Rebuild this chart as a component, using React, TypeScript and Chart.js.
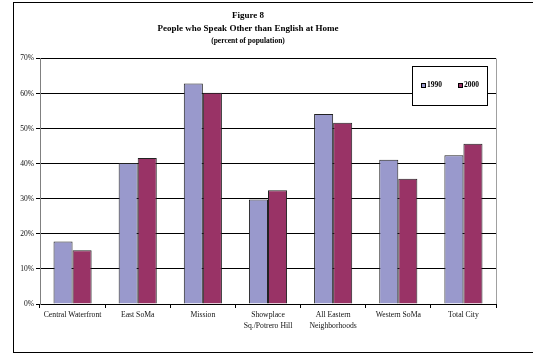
import React, { useEffect, useRef } from "react";
import { Chart, registerables } from "chart.js";

Chart.register(...registerables);

const categories: (string | string[])[] = [
  "Central Waterfront",
  "East SoMa",
  "Mission",
  ["Showplace", "Sq./Potrero Hill"],
  ["All Eastern", "Neighborhoods"],
  "Western SoMa",
  "Total City",
];
const values1990 = [17.8, 40.2, 62.9, 29.8, 54.2, 41.1, 42.4];
const values2000 = [15.3, 41.6, 60.2, 32.4, 51.7, 35.7, 45.7];
const yTicks = [0, 10, 20, 30, 40, 50, 60, 70];
const seriesLabels = ["1990", "2000"];
const seriesColors = ["#9999CC", "#993366"];

const SERIF = "'Liberation Serif', 'Times New Roman', serif";

const legendPlugin = {
  id: "boxLegend",
  afterDraw(chart: any) {
    const { ctx, chartArea } = chart;
    const w = 75;
    const h = 39;
    const left = chartArea.right - 9 - w;
    const top = chartArea.top + 7;
    ctx.save();
    ctx.fillStyle = "#fff";
    ctx.fillRect(left, top, w, h);
    ctx.strokeStyle = "#000";
    ctx.lineWidth = 1;
    ctx.strokeRect(Math.round(left) + 0.5, Math.round(top) + 0.5, w, h);
    ctx.font = `bold 7.5px ${SERIF}`;
    ctx.textBaseline = "middle";
    const cy = top + h / 2;
    const offsets = [9, 46];
    chart.data.datasets.forEach((ds: any, i: number) => {
      const x = Math.round(left + offsets[i]);
      ctx.fillStyle = ds.backgroundColor;
      ctx.fillRect(x, Math.round(cy - 2.5), 5, 5);
      ctx.strokeStyle = "#000";
      ctx.strokeRect(x + 0.5, Math.round(cy - 2.5) + 0.5, 4, 4);
      ctx.fillStyle = "#000";
      ctx.fillText(ds.label, x + 6, cy);
    });
    ctx.restore();
  },
};

const borderPlugin = {
  id: "plotBorder",
  beforeDatasetsDraw(chart: any) {
    const { ctx, chartArea } = chart;
    ctx.save();
    ctx.strokeStyle = "#A0A0A0";
    ctx.lineWidth = 1;
    ctx.beginPath();
    const x = Math.round(chartArea.right) + 0.5;
    ctx.moveTo(x, chartArea.top);
    ctx.lineTo(x, chartArea.bottom);
    ctx.stroke();
    ctx.restore();
  },
};

export default function App() {
  const ref = useRef<HTMLCanvasElement>(null);

  useEffect(() => {
    if (!ref.current) return;
    const chart = new Chart(ref.current, {
      type: "bar",
      data: {
        labels: categories as any,
        datasets: [
          {
            label: seriesLabels[0],
            data: values1990,
            backgroundColor: seriesColors[0],
            borderColor: "#222",
            borderWidth: 1,
          },
          {
            label: seriesLabels[1],
            data: values2000,
            backgroundColor: seriesColors[1],
            borderColor: "#222",
            borderWidth: 1,
          },
        ],
      },
      options: {
        animation: false,
        responsive: false,
        maintainAspectRatio: false,
        layout: { padding: { left: 0, right: 37, top: 0, bottom: 0 } },
        datasets: {
          bar: { categoryPercentage: 0.585, barPercentage: 1 },
        },
        plugins: {
          legend: { display: false },
          tooltip: { enabled: false },
          title: {
            display: true,
            text: ["Figure 8", "People who Speak Other than English at Home"],
            color: "#000",
            font: { family: SERIF, size: 9, weight: "bold", lineHeight: 13 / 9 },
            padding: { top: 9.5, bottom: 0 },
          },
          subtitle: {
            display: true,
            text: "(percent of population)",
            color: "#000",
            font: { family: SERIF, size: 7.5, weight: "bold", lineHeight: 1.2 },
            padding: { top: 1, bottom: 13 },
          },
        },
        scales: {
          x: {
            grid: {
              drawOnChartArea: false,
              drawTicks: true,
              tickLength: 4,
              color: "#000",
              offset: true,
            },
            border: { color: "#000", width: 1 },
            ticks: {
              autoSkip: false,
              maxRotation: 0,
              minRotation: 0,
              padding: 2,
              color: "#111",
              font: { family: SERIF, size: 7.7, lineHeight: 1.4 },
            },
            afterFit: (scale: any) => {
              scale.height = 56;
            },
          },
          y: {
            min: 0,
            max: 70,
            afterBuildTicks: (scale: any) => {
              scale.ticks = yTicks.map((v) => ({ value: v }));
            },
            grid: {
              color: "#000",
              lineWidth: 1,
              tickLength: 4,
            },
            border: { color: "#808080", width: 1 },
            ticks: {
              padding: 2,
              color: "#111",
              font: { family: SERIF, size: 7.5 },
              callback: (v: any) => `${v}%`,
            },
            afterFit: (scale: any) => {
              scale.width = 40;
            },
          },
        },
      },
      plugins: [borderPlugin, legendPlugin],
    });
    return () => chart.destroy();
  }, []);

  return (
    <div
      style={{
        position: "fixed",
        left: 0,
        top: 0,
        width: 533,
        height: 360,
        background: "#fff",
        overflow: "hidden",
      }}
    >
      <div
        style={{
          position: "absolute",
          left: 13,
          top: 2,
          width: 540,
          height: 349,
          border: "1px solid #000",
        }}
      />
      <canvas
        ref={ref}
        width={533}
        height={360}
        style={{ position: "absolute", left: 0, top: 0 }}
      />
    </div>
  );
}
